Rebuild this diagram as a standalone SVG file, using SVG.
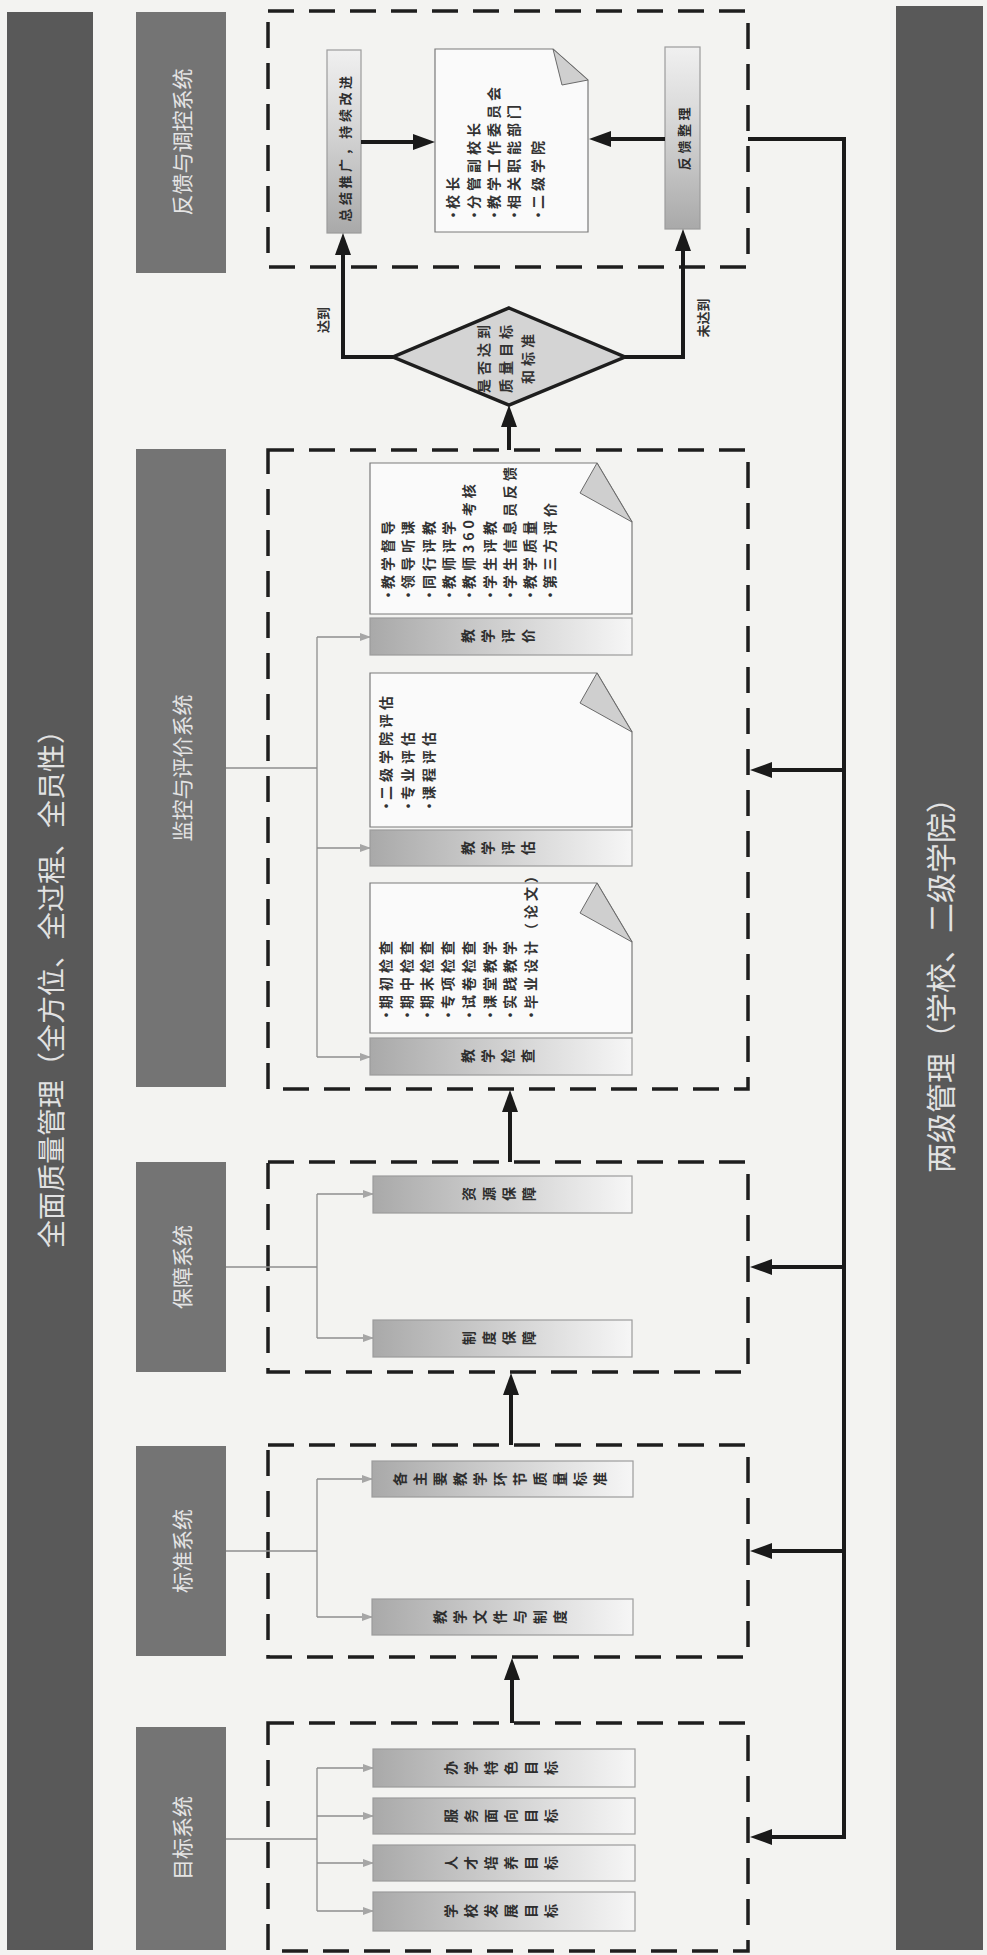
<svg xmlns="http://www.w3.org/2000/svg" width="987" height="1955" viewBox="0 0 987 1955">
<defs>
<style>
.bg{fill:#f3f3f1}
.band{fill:#595959}
.bandt{font-family:"Noto Sans CJK SC",sans-serif;font-size:28px;fill:#e2e2e2;text-anchor:middle;dominant-baseline:central}
.sys{fill:#747474}
.syst{font-family:"Noto Sans CJK SC",sans-serif;font-size:21px;fill:#e4e4e4;text-anchor:middle;dominant-baseline:central}
.grp{fill:none;stroke:#1e1e1e;stroke-width:3.5;stroke-dasharray:26 15}
.item{fill:url(#gItem);stroke:#9c9c9c;stroke-width:1.2}
.itemv{fill:url(#gItemV);stroke:#9c9c9c;stroke-width:1.2}
.it{font-family:"Noto Sans CJK SC",sans-serif;font-size:14px;font-weight:700;fill:#2e2e2e;letter-spacing:6px;writing-mode:vertical-rl;text-anchor:middle}
.vt{font-family:"Noto Sans CJK SC",sans-serif;font-size:13px;font-weight:700;fill:#2e2e2e;letter-spacing:3.6px;text-anchor:middle;dominant-baseline:central}
.doc{fill:#fafafa;stroke:#7a7a7a;stroke-width:1.2}
.fold{fill:#cfcfcf;stroke:#6a6a6a;stroke-width:1}
.dt{font-family:"Noto Sans CJK SC",sans-serif;font-size:14px;font-weight:700;fill:#333;letter-spacing:4px;dominant-baseline:central}
.dia{fill:#d4d4d4;stroke:#1e1e1e;stroke-width:3.5}
.diat{font-family:"Noto Sans CJK SC",sans-serif;font-size:14px;font-weight:700;fill:#333;letter-spacing:4px;text-anchor:middle;dominant-baseline:central}
.lbl{font-family:"Noto Sans CJK SC",sans-serif;font-size:13px;font-weight:700;fill:#333;text-anchor:middle;dominant-baseline:central}
.thin{fill:none;stroke:#8e8e8e;stroke-width:1.3}
.thina{fill:none;stroke:#8e8e8e;stroke-width:1.3;marker-end:url(#ahs)}
.thicka{fill:none;stroke:#1a1a1a;stroke-width:4;marker-end:url(#ah)}
</style>
<linearGradient id="gItem" x1="0" y1="0" x2="1" y2="0"><stop offset="0" stop-color="#a9a9a9"/><stop offset="0.55" stop-color="#d4d4d4"/><stop offset="1" stop-color="#f6f6f6"/></linearGradient>
<linearGradient id="gItemV" x1="0" y1="1" x2="0" y2="0"><stop offset="0" stop-color="#a9a9a9"/><stop offset="0.55" stop-color="#d4d4d4"/><stop offset="1" stop-color="#f0f0f0"/></linearGradient>
<marker id="ah" viewBox="0 0 22 16" refX="16" refY="8" markerWidth="22" markerHeight="16" markerUnits="userSpaceOnUse" orient="auto"><path d="M0,0 L22,8 L0,16 z" fill="#1a1a1a"/></marker>
<marker id="ahs" viewBox="0 0 11 8" refX="10" refY="4" markerWidth="11" markerHeight="8" markerUnits="userSpaceOnUse" orient="auto"><path d="M0,0 L11,4 L0,8 z" fill="#a6a6a6"/></marker>
</defs>
<rect class="bg" x="0" y="0" width="987" height="1955"/>

<g id="band-left"><rect class="band" x="7" y="12" width="86" height="1938"/><text class="bandt" transform="translate(50,982) rotate(-90)">全面质量管理（全方位、全过程、全员性）</text></g>
<g id="band-right"><rect class="band" x="896" y="6" width="87" height="1944"/><text class="bandt" style="font-size:30px" transform="translate(939,978) rotate(-90)">两级管理（学校、二级学院）</text></g>

<g id="sys-feedback"><rect class="sys" x="136" y="12" width="90" height="261"/><text class="syst" transform="translate(181,142) rotate(-90)">反馈与调控系统</text></g>
<g id="sys-monitor"><rect class="sys" x="136" y="449" width="90" height="638"/><text class="syst" transform="translate(181,768) rotate(-90)">监控与评价系统</text></g>
<g id="sys-support"><rect class="sys" x="136" y="1162" width="90" height="210"/><text class="syst" transform="translate(181,1267) rotate(-90)">保障系统</text></g>
<g id="sys-standard"><rect class="sys" x="136" y="1446" width="90" height="210"/><text class="syst" transform="translate(181,1551) rotate(-90)">标准系统</text></g>
<g id="sys-goal"><rect class="sys" x="136" y="1727" width="90" height="223"/><text class="syst" transform="translate(181,1838) rotate(-90)">目标系统</text></g>

<g id="grp-feedback"><rect class="grp" x="268" y="11" width="480" height="256"/></g>
<g id="grp-monitor"><rect class="grp" x="268" y="450" width="480" height="639"/></g>
<g id="grp-support"><rect class="grp" x="268" y="1162" width="480" height="210"/></g>
<g id="grp-standard"><rect class="grp" x="268" y="1445" width="480" height="212"/></g>
<g id="grp-goal"><rect class="grp" x="268" y="1723" width="480" height="228"/></g>

<g id="fb-summary"><rect class="itemv" x="327" y="50" width="34" height="183"/><text class="vt" transform="translate(344,147) rotate(-90)">总结推广，持续改进</text></g>
<g id="fb-doc"><path class="doc" d="M435,49 H553 L588,80 V232 H435 Z"/><path class="fold" d="M553,49 L588,80 L562,85 Z"/>
<g transform="translate(452,222) rotate(-90)">
<text class="dt" x="0" y="0">•</text><text class="dt" x="13" y="0">校长</text>
<text class="dt" x="0" y="21">•</text><text class="dt" x="13" y="21">分管副校长</text>
<text class="dt" x="0" y="41">•</text><text class="dt" x="13" y="41">教学工作委员会</text>
<text class="dt" x="0" y="61">•</text><text class="dt" x="13" y="61">相关职能部门</text>
<text class="dt" x="0" y="85">•</text><text class="dt" x="13" y="85">二级学院</text>
</g></g>
<g id="fb-collect"><rect class="itemv" x="665" y="47" width="35" height="182"/><text class="vt" transform="translate(683,137) rotate(-90)">反馈整理</text></g>

<g id="decision"><path class="dia" d="M509,308 L625,357 L509,405 L393,357 Z"/>
<g transform="translate(505,357) rotate(-90)"><text class="diat" x="0" y="-22">是否达到</text><text class="diat" x="0" y="0">质量目标</text><text class="diat" x="0" y="22">和标准</text></g></g>

<g id="m-eval">
<path class="doc" d="M370,463 H597 L632,522 V614 H370 Z"/><path class="fold" d="M597,463 L632,522 L580,493 Z"/>
<g transform="translate(387,602) rotate(-90)">
<text class="dt" x="0" y="0">•</text><text class="dt" x="13" y="0">教学督导</text>
<text class="dt" x="0" y="20.3">•</text><text class="dt" x="13" y="20.3">领导听课</text>
<text class="dt" x="0" y="40.6">•</text><text class="dt" x="13" y="40.6">同行评教</text>
<text class="dt" x="0" y="60.9">•</text><text class="dt" x="13" y="60.9">教师评学</text>
<text class="dt" x="0" y="81.2">•</text><text class="dt" x="13" y="81.2">教师360考核</text>
<text class="dt" x="0" y="101.5">•</text><text class="dt" x="13" y="101.5">学生评教</text>
<text class="dt" x="0" y="121.8">•</text><text class="dt" x="13" y="121.8">学生信息员反馈</text>
<text class="dt" x="0" y="142.1">•</text><text class="dt" x="13" y="142.1">教学质量</text>
<text class="dt" x="0" y="162.4">•</text><text class="dt" x="13" y="162.4">第三方评价</text>
</g>
<rect class="item" x="370" y="618" width="262" height="37"/><text class="it" x="501" y="636" transform="rotate(-90 501 636)">教学评价</text>
</g>
<g id="m-assess">
<path class="doc" d="M370,673 H597 L632,732 V827 H370 Z"/><path class="fold" d="M597,673 L632,732 L580,703 Z"/>
<g transform="translate(385,813) rotate(-90)">
<text class="dt" x="0" y="0">•</text><text class="dt" x="13" y="0">二级学院评估</text>
<text class="dt" x="0" y="21.5">•</text><text class="dt" x="13" y="21.5">专业评估</text>
<text class="dt" x="0" y="43">•</text><text class="dt" x="13" y="43">课程评估</text>
</g>
<rect class="item" x="370" y="830" width="262" height="36"/><text class="it" x="501" y="848" transform="rotate(-90 501 848)">教学评估</text>
</g>
<g id="m-check">
<path class="doc" d="M370,883 H597 L632,942 V1033 H370 Z"/><path class="fold" d="M597,883 L632,942 L580,913 Z"/>
<g transform="translate(385,1022) rotate(-90)">
<text class="dt" x="0" y="0">•</text><text class="dt" x="13" y="0">期初检查</text>
<text class="dt" x="0" y="20.7">•</text><text class="dt" x="13" y="20.7">期中检查</text>
<text class="dt" x="0" y="41.4">•</text><text class="dt" x="13" y="41.4">期末检查</text>
<text class="dt" x="0" y="62.1">•</text><text class="dt" x="13" y="62.1">专项检查</text>
<text class="dt" x="0" y="82.8">•</text><text class="dt" x="13" y="82.8">试卷检查</text>
<text class="dt" x="0" y="103.5">•</text><text class="dt" x="13" y="103.5">课堂教学</text>
<text class="dt" x="0" y="124.2">•</text><text class="dt" x="13" y="124.2">实践教学</text>
<text class="dt" x="0" y="144.9">•</text><text class="dt" x="13" y="144.9">毕业设计（论文）</text>
</g>
<rect class="item" x="370" y="1038" width="262" height="37"/><text class="it" x="501" y="1056" transform="rotate(-90 501 1056)">教学检查</text>
</g>

<g id="s-1"><rect class="item" x="373" y="1176" width="259" height="37"/><text class="it" x="502" y="1194" transform="rotate(-90 502 1194)">资源保障</text></g>
<g id="s-2"><rect class="item" x="373" y="1320" width="259" height="37"/><text class="it" x="502" y="1338" transform="rotate(-90 502 1338)">制度保障</text></g>

<g id="st-1"><rect class="item" x="372" y="1461" width="261" height="36"/><text class="it" x="503" y="1479" transform="rotate(-90 503 1479)">各主要教学环节质量标准</text></g>
<g id="st-2"><rect class="item" x="372" y="1599" width="261" height="36"/><text class="it" x="503" y="1617" transform="rotate(-90 503 1617)">教学文件与制度</text></g>

<g id="g-1"><rect class="item" x="373" y="1749" width="262" height="38"/><text class="it" x="504" y="1768" transform="rotate(-90 504 1768)">办学特色目标</text></g>
<g id="g-2"><rect class="item" x="373" y="1798" width="262" height="36"/><text class="it" x="504" y="1816" transform="rotate(-90 504 1816)">服务面向目标</text></g>
<g id="g-3"><rect class="item" x="373" y="1845" width="262" height="36"/><text class="it" x="504" y="1863" transform="rotate(-90 504 1863)">人才培养目标</text></g>
<g id="g-4"><rect class="item" x="373" y="1892" width="262" height="39"/><text class="it" x="504" y="1911" transform="rotate(-90 504 1911)">学校发展目标</text></g>

<g id="labels">
<text class="lbl" transform="translate(322,320) rotate(-90)">达到</text>
<text class="lbl" transform="translate(702,318) rotate(-90)">未达到</text>
</g>

<g id="connectors">
<path class="thin" d="M226,768 H317 M317,637 V1057"/>
<path class="thina" d="M317,637 H370"/><path class="thina" d="M317,848 H370"/><path class="thina" d="M317,1057 H370"/>
<path class="thin" d="M226,1267 H317 M317,1194 V1338"/>
<path class="thina" d="M317,1194 H373"/><path class="thina" d="M317,1338 H373"/>
<path class="thin" d="M226,1551 H317 M317,1479 V1617"/>
<path class="thina" d="M317,1479 H372"/><path class="thina" d="M317,1617 H372"/>
<path class="thin" d="M226,1839 H317 M317,1768 V1911"/>
<path class="thina" d="M317,1768 H373"/><path class="thina" d="M317,1816 H373"/><path class="thina" d="M317,1863 H373"/><path class="thina" d="M317,1911 H373"/>

<path class="thicka" d="M509,450 V411"/>
<path class="thicka" d="M510,1162 V1096"/>
<path class="thicka" d="M511,1445 V1379"/>
<path class="thicka" d="M512,1723 V1664"/>
<path class="thicka" d="M393,357 H343 V239"/>
<path class="thicka" d="M625,357 H683 V235"/>
<path class="thicka" d="M361,142 H429"/>
<path class="thicka" d="M665,139 H595"/>
<path class="thicka" d="M748,139 H844 V1837 H756"/>
<path class="thicka" d="M844,770 H756"/>
<path class="thicka" d="M844,1267 H756"/>
<path class="thicka" d="M844,1551 H756"/>
</g>
</svg>
